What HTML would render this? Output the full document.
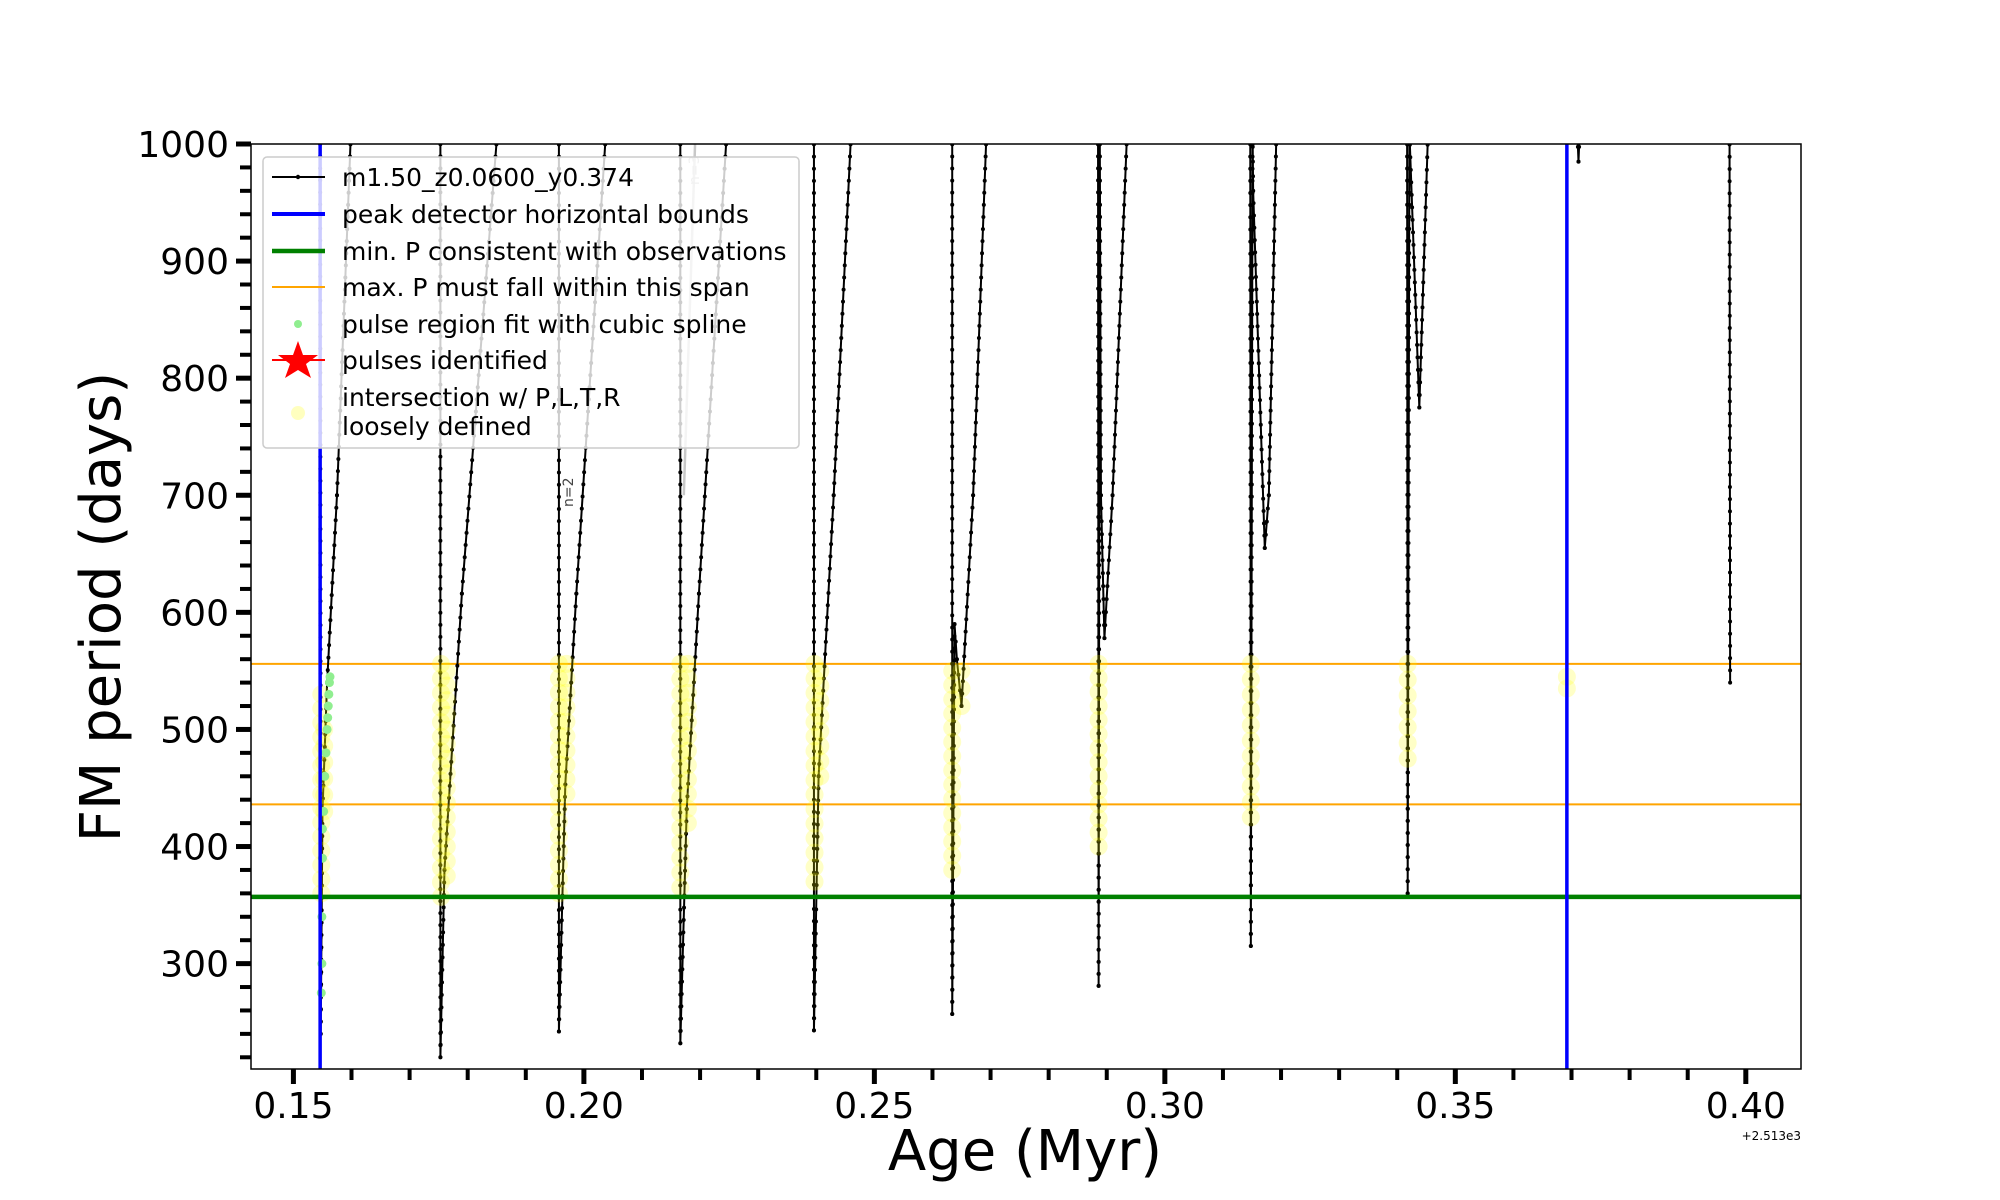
<!DOCTYPE html>
<html><head><meta charset="utf-8"><style>
html,body{margin:0;padding:0;background:#fff}
svg{display:block;font-family:"DejaVu Sans","Liberation Sans",sans-serif}
</style></head><body>
<svg id="chart" width="2000" height="1200" viewBox="0 0 2000 1200" xmlns="http://www.w3.org/2000/svg">
<g id="plot"></g>
</svg>
<script>
const NS='http://www.w3.org/2000/svg';
const xTicks=[0.15,0.20,0.25,0.30,0.35,0.40];
const xTickLabels=['0.15','0.20','0.25','0.30','0.35','0.40'];
const yTicks=[300,400,500,600,700,800,900,1000];
const yTickLabels=['300','400','500','600','700','800','900','1000'];
const blueBounds=[0.1546,0.3692];
const minP=[357];
const maxPSpan=[436,556];
const pulse1=[[0.1546,1010],[0.1547,240],[0.1550,430],[0.1558,540],[0.1575,700],[0.1599,1010]];
const pulse2=[[0.1753,1010],[0.1753,220],[0.1760,380],[0.1790,616],[0.1851,1010]];
const pulse3=[[0.1957,1010],[0.1957,242],[0.1968,453],[0.1987,616],[0.2038,1010]];
const pulse4=[[0.2166,1010],[0.2166,232],[0.2177,432],[0.2198,616],[0.2246,1010]];
const pulse5=[[0.2396,1010],[0.2396,243],[0.2404,460],[0.2430,700],[0.2460,1010]];
const pulse6=[[0.2634,1010],[0.2634,257],[0.2638,590],[0.2642,560],[0.2650,520],[0.2670,700],[0.2693,1010]];
const pulse7=[[0.2885,1010],[0.2886,281],[0.2888,1010],[0.2890,700],[0.2896,578],[0.2910,700],[0.2935,1010]];
const pulse8=[[0.3147,1010],[0.3148,315],[0.3151,1010],[0.3152,960],[0.3172,655],[0.3179,700],[0.3192,1010]];
const pulse9=[[0.3417,1010],[0.3418,360],[0.3421,1010],[0.3438,775],[0.3453,1010]];
const pulse10=[[0.3710,1010],[0.3712,985],[0.3714,1010]];
const pulse11=[[0.3972,1010],[0.3973,540]];
const greyTrack=[[0.2172,700],[0.2192,1010]];
const greenAge=[0.1548,0.1549,0.1549,0.1550,0.1550,0.1552,0.1554,0.1556,0.1558,0.1559,0.1560,0.1561,0.1562,0.1563];
const greenP=[275,300,340,390,415,430,460,480,500,510,520,530,540,545];
// yellow "loosely defined" segments: [age, Plow, Phigh]
const yellowSegs=[[0.1548,360,530],[0.1553,430,500],[0.1754,357,556],[0.1764,375,550],[0.1957,360,556],[0.1970,445,556],[0.2166,365,556],[0.2179,420,556],[0.2397,370,556],[0.2407,460,550],[0.2634,380,550],[0.2650,520,550],[0.2886,400,556],[0.3148,425,556],[0.3418,475,556],[0.3692,535,545]];

const L=251,R=1801,T=144,B=1069,xMin=0.1427,xMax=0.4095,yMin=210,yMax=1000;
const sx=v=>L+(v-xMin)/(xMax-xMin)*(R-L);
const sy=v=>B-(v-yMin)/(yMax-yMin)*(B-T);
const svg=document.getElementById('chart');
const plot=document.getElementById('plot');
function mk(tag,attrs,parent){const e=document.createElementNS(NS,tag);for(const k in attrs)e.setAttribute(k,attrs[k]);(parent||svg).appendChild(e);return e;}

const defs=mk('defs',{});
const cp=mk('clipPath',{id:'clip'},defs);mk('rect',{x:L,y:T,width:R-L,height:B-T},cp);
plot.setAttribute('clip-path','url(#clip)');

maxPSpan.forEach((p,i)=>{const e=mk('line',{x1:L,x2:R,y1:sy(p),y2:sy(p),stroke:'#ffa500','stroke-width':2},plot);

});

const g=mk('polyline',{points:greyTrack.map(p=>sx(p[0])+','+sy(p[1])).join(' '),fill:'none',stroke:'#c8c8c8','stroke-width':2.5},plot);



const pulses=[pulse1,pulse2,pulse3,pulse4,pulse5,pulse6,pulse7,pulse8,pulse9,pulse10,pulse11];
pulses.forEach((pts,i)=>{
 const pl=mk('polyline',{points:pts.map(p=>sx(p[0])+','+sy(p[1])).join(' '),fill:'none',stroke:'#000','stroke-width':2},plot);
 
 
 for(let k=0;k<pts.length-1;k++){
  const x1=sx(pts[k][0]),y1=sy(pts[k][1]),x2=sx(pts[k+1][0]),y2=sy(pts[k+1][1]);
  const len=Math.hypot(x2-x1,y2-y1),n=Math.max(1,Math.floor(len/12));
  for(let j=0;j<=n;j++){mk('circle',{cx:x1+(x2-x1)*j/n,cy:y1+(y2-y1)*j/n,r:2,fill:'#000'},plot);}
 }
});

yellowSegs.forEach((s,i)=>{
 const grp=mk('g',{},plot);
 
 
 const y1=sy(s[1]),y2=sy(s[2]);const n=Math.max(1,Math.floor((y1-y2)/14));
 for(let j=0;j<=n;j++)mk('circle',{cx:sx(s[0]),cy:y2+(y1-y2)*j/n,r:9,fill:'#ffff00','fill-opacity':0.22},grp);
});

greenAge.forEach((a,i)=>{const c=mk('circle',{cx:sx(a),cy:sy(greenP[i]),r:4.5,fill:'#90ee90'},plot);

});

minP.forEach(p=>{const e=mk('line',{x1:L,x2:R,y1:sy(p),y2:sy(p),stroke:'#008000','stroke-width':4.5},plot);

});
blueBounds.forEach((a,i)=>{const e=mk('line',{x1:sx(a),x2:sx(a),y1:T,y2:B,stroke:'#0000ff','stroke-width':3.5},plot);

});

const n2=mk('text',{x:0,y:0,transform:`translate(${sx(0.1981)},${sy(690)}) rotate(-90)`,'font-size':14,fill:'#444'},plot);n2.textContent='n=2';


const n3=mk('text',{x:0,y:0,transform:`translate(${sx(0.2198)},${sy(965)}) rotate(-90)`,'font-size':14,fill:'#bbb'},plot);n3.textContent='n=3';



const fr=mk('rect',{x:L,y:T,width:R-L,height:B-T,fill:'none',stroke:'#000','stroke-width':1.5});



for(let v=0.15;v<=0.4051;v+=0.01){const major=Math.abs(v*20-Math.round(v*20))<1e-6;
 mk('line',{x1:sx(v),x2:sx(v),y1:B,y2:B+(major?15:11),stroke:'#000','stroke-width':major?5:4});}
xTicks.forEach((v,i)=>{const t=mk('text',{x:sx(v),y:1118,'text-anchor':'middle','font-size':36},svg);t.textContent=xTickLabels[i];

});
for(let v=220;v<=1000;v+=20){const major=v%100===0;
 mk('line',{x1:L-(major?15:11),x2:L,y1:sy(v),y2:sy(v),stroke:'#000','stroke-width':major?5:4});}
yTicks.forEach((v,i)=>{const t=mk('text',{x:L-22,y:sy(v)+13,'text-anchor':'end','font-size':36},svg);t.textContent=yTickLabels[i];

});
</script>
<svg style="position:absolute;left:0;top:0" width="2000" height="1200" xmlns="http://www.w3.org/2000/svg">
<text x="1025" y="1170" text-anchor="middle" font-size="56" font-family="DejaVu Sans, Liberation Sans, sans-serif">Age (Myr)</text>
<text x="1801" y="1140" text-anchor="end" font-size="12" font-family="DejaVu Sans, Liberation Sans, sans-serif">+2.513e3</text>
<text transform="translate(120,607) rotate(-90)" text-anchor="middle" font-size="56" font-family="DejaVu Sans, Liberation Sans, sans-serif">FM period (days)</text>
<g font-family="DejaVu Sans, Liberation Sans, sans-serif" font-size="25">
<rect x="263" y="157" width="536" height="291" rx="4" fill="#fff" fill-opacity="0.8" stroke="#ccc" stroke-width="1.5"/>
<g><line x1="272" x2="325" y1="177" y2="177" stroke="#000" stroke-width="2"/><circle cx="298" cy="177" r="2.2"/><text x="342" y="186">m1.50_z0.0600_y0.374</text></g>
<g><line x1="272" x2="325" y1="214" y2="214" stroke="#00f" stroke-width="4"/><text x="342" y="223">peak detector horizontal bounds</text></g>
<g><line x1="272" x2="325" y1="251" y2="251" stroke="#008000" stroke-width="4.5"/><text x="342" y="260">min. P consistent with observations</text></g>
<g><line x1="272" x2="325" y1="287" y2="287" stroke="#ffa500" stroke-width="2"/><text x="342" y="296">max. P must fall within this span</text></g>
<g><circle cx="298" cy="324" r="4" fill="#90ee90"/><text x="342" y="333">pulse region fit with cubic spline</text></g>
<g><line x1="272" x2="325" y1="360" y2="360" stroke="#f00" stroke-width="2"/><polygon points="298,341 303,355 318,355 306,364 311,378 298,370 285,378 290,364 278,355 293,355" fill="#f00"/><text x="342" y="369">pulses identified</text></g>
<g><circle cx="298" cy="413" r="7" fill="#ffff00" fill-opacity="0.25"/><text x="342" y="406">intersection w/ P,L,T,R</text><text x="342" y="435">loosely defined</text></g>
</g>
</svg>
</body></html>
